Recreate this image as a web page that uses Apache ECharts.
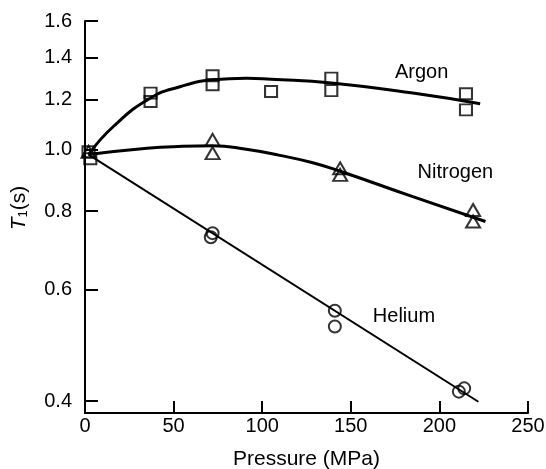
<!DOCTYPE html>
<html>
<head>
<meta charset="utf-8">
<script src="https://cdn.jsdelivr.net/npm/echarts@6/dist/echarts.min.js"></script>
<style>
  html, body { margin: 0; padding: 0; background: #fff; }
  #chart { width: 546px; height: 469px; }
</style>
</head>
<body>
<div id="chart"></div>
<script>
// Axis tick values
const xTicks = [0, 50, 100, 150, 200, 250];
const yTicks = [0.4, 0.6, 0.8, 1.0, 1.2, 1.4, 1.6];
const yRange = [0.383, 1.6];

// Measured relaxation times T1 (s) versus pressure (MPa)
const argonPressure = [2, 3, 37, 37, 72, 72, 105, 139, 139, 215, 215];
const argonT1       = [0.993, 0.968, 1.230, 1.193, 1.310, 1.268, 1.237, 1.299, 1.241, 1.227, 1.157];

const nitrogenPressure = [2, 72, 72, 144, 144, 219, 219];
const nitrogenT1       = [0.993, 1.037, 0.988, 0.935, 0.913, 0.803, 0.770];

const heliumPressure = [72, 71, 141, 141, 211, 214];
const heliumT1       = [0.738, 0.727, 0.556, 0.525, 0.414, 0.419];

// Fitted curves
const argonFitP = [2, 16, 37, 54, 72, 91, 105, 139, 185, 223];
const argonFitT = [0.983, 1.089, 1.208, 1.260, 1.291, 1.299, 1.294, 1.276, 1.230, 1.183];

const nitrogenFitP = [2, 35, 55, 72, 91, 110, 128, 144, 185, 226];
const nitrogenFitT = [0.983, 1.006, 1.013, 1.015, 1.002, 0.980, 0.955, 0.925, 0.843, 0.770];

// Helium: exponential decay, a straight line on the log axis
const heliumFitP = [2, 222];
const heliumFitT = [0.983, 0.399];

// Curve names and where their captions sit (pressure, T1)
const gasNames = ['Argon', 'Nitrogen', 'Helium'];
const captionAt = [[190, 1.328], [209, 0.920], [180, 0.544]];

// The T1 axis is logarithmic: values are plotted as log10(T1)
const L = v => Math.log10(v);
const pairs = (xs, ys) => xs.map((x, i) => [x, L(ys[i])]);

const FONT = 'Liberation Sans, Arial, Helvetica, sans-serif';
const BLACK = '#000';

function markerSeries(name, xs, ys, symbol, size) {
  return {
    name: name,
    type: 'scatter',
    data: pairs(xs, ys),
    symbol: symbol,
    symbolSize: size,
    z: 3,
    itemStyle: { color: 'rgba(0,0,0,0)', borderColor: BLACK, borderWidth: 2 }
  };
}

function fitSeries(idx, xs, ys, smooth, width) {
  return {
    name: gasNames[idx] + ' fit',
    type: 'line',
    data: pairs(xs, ys),
    smooth: smooth,
    showSymbol: false,
    silent: true,
    z: 2,
    lineStyle: { color: BLACK, width: width },
    markPoint: {
      symbol: 'circle',
      symbolSize: 0,
      data: [{
        coord: [captionAt[idx][0], L(captionAt[idx][1])],
        label: {
          show: true,
          formatter: gasNames[idx],
          color: BLACK,
          fontFamily: FONT,
          fontSize: 20,
          position: 'inside'
        }
      }]
    }
  };
}

const chart = echarts.init(document.getElementById('chart'));
chart.setOption({
  animation: false,
  backgroundColor: '#fff',
  grid: { left: 85, right: 18, top: 21, bottom: 56, containLabel: false, outerBoundsMode: 'none' },
  xAxis: {
    type: 'value',
    min: xTicks[0],
    max: xTicks[xTicks.length - 1],
    name: 'Pressure (MPa)',
    nameLocation: 'middle',
    nameGap: 36,
    nameTextStyle: { color: BLACK, fontFamily: FONT, fontSize: 21 },
    axisLine: { show: true, onZero: false, lineStyle: { color: BLACK, width: 2 } },
    axisTick: { show: true, inside: true, length: 12, customValues: xTicks,
                lineStyle: { color: BLACK, width: 2 } },
    axisLabel: { customValues: xTicks, margin: 3, color: BLACK,
                 fontFamily: FONT, fontSize: 20 },
    splitLine: { show: false }
  },
  yAxis: {
    type: 'value',
    min: L(yRange[0]),
    max: L(yRange[1]),
    name: '{t|T}{s|1}{p|(s)}',
    nameLocation: 'middle',
    nameRotate: 90,
    nameGap: 55,
    nameTextStyle: {
      color: BLACK,
      fontFamily: FONT,
      padding: [0, 0, 0, 18],
      rich: {
        t: { fontStyle: 'italic', fontSize: 21, fontFamily: FONT, color: BLACK, lineHeight: 22 },
        s: { fontSize: 13, fontFamily: FONT, color: BLACK, verticalAlign: 'bottom', lineHeight: 22, padding: [8, 0, 0, 0] },
        p: { fontSize: 21, fontFamily: FONT, color: BLACK, lineHeight: 22 }
      }
    },
    axisLine: { show: true, onZero: false, lineStyle: { color: BLACK, width: 2 } },
    axisTick: { show: true, inside: true, length: 13, customValues: yTicks.map(L),
                lineStyle: { color: BLACK, width: 2 } },
    axisLabel: {
      customValues: yTicks.map(L),
      formatter: v => Math.pow(10, v).toFixed(1),
      margin: 13,
      color: BLACK,
      fontFamily: FONT,
      fontSize: 20
    },
    splitLine: { show: false }
  },
  series: [
    fitSeries(0, argonFitP, argonFitT, true, 3),
    fitSeries(1, nitrogenFitP, nitrogenFitT, true, 3),
    fitSeries(2, heliumFitP, heliumFitT, false, 2),
    markerSeries('Argon', argonPressure, argonT1, 'rect', [12, 11]),
    markerSeries('Nitrogen', nitrogenPressure, nitrogenT1, 'triangle', [14, 12]),
    markerSeries('Helium', heliumPressure, heliumT1, 'circle', 12)
  ]
});
</script>
</body>
</html>
